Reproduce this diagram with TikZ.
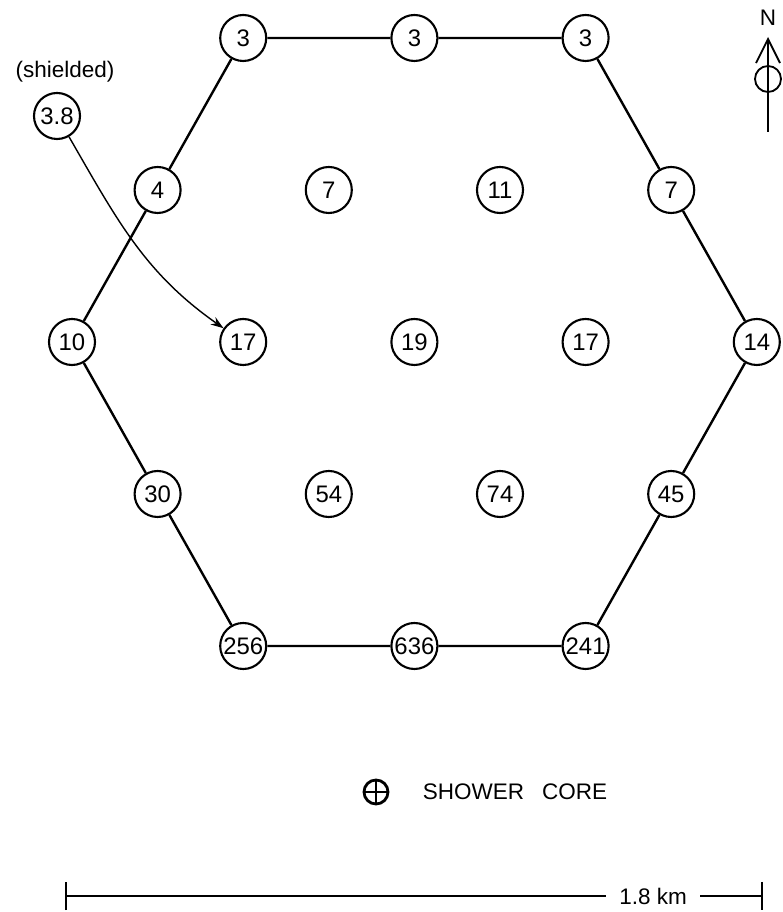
\documentclass[tikz,border=0pt]{standalone}
\usepackage{fontspec}
\setmainfont{Liberation Sans}
\usetikzlibrary{arrows.meta}

\begin{document}
\begin{tikzpicture}[x=0.025cm, y=0.025cm,
    detector/.style={circle, draw, line width=1.5pt, minimum size=1.15cm, inner sep=0pt, font=\fontsize{17}{17}\selectfont},
    hexline/.style={line width=1.7pt},
    lettering/.style={inner sep=0pt, font=\fontsize{16}{16}\selectfont},
    shieldarrow/.style={-{Stealth[length=3.2mm, width=2.2mm]}, line width=1pt},
    northarrow/.style={-{Straight Barb[length=6mm, width=6mm]}, line width=1.3pt},
    scalebar/.style={line width=1.4pt}
]
\useasboundingbox (0,0) rectangle (782,912);

% Detector array - top row
\node[detector] (t1) at (243.2,874) {3};
\node[detector] (t2) at (414.4,874) {3};
\node[detector] (t3) at (585.6,874) {3};
% second row
\node[detector] (a1) at (157.6,722) {4};
\node[detector] (a2) at (328.8,722) {7};
\node[detector] (a3) at (500,722) {11};
\node[detector] (a4) at (671.2,722) {7};
% middle row
\node[detector] (b1) at (72,570) {10};
\node[detector] (b2) at (243.2,570) {17};
\node[detector] (b3) at (414.4,570) {19};
\node[detector] (b4) at (585.6,570) {17};
\node[detector] (b5) at (756.8,570) {14};
% fourth row
\node[detector] (c1) at (157.6,418) {30};
\node[detector] (c2) at (328.8,418) {54};
\node[detector] (c3) at (500,418) {74};
\node[detector] (c4) at (671.2,418) {45};
% bottom row
\node[detector] (d1) at (243.2,266) {256};
\node[detector] (d2) at (414.4,266) {636};
\node[detector] (d3) at (585.6,266) {241};

% Hexagon outline
\draw[hexline] (t1) -- (t2) -- (t3) -- (a4) -- (b5) -- (c4) -- (d3) -- (d2) -- (d1) -- (c1) -- (b1) -- (a1) -- (t1);

% Shielded detector
\node[lettering] (shlabel) at (65,840) {(shielded)};
\node[detector] (sh) at (57,796) {3.8};
\draw[shieldarrow] (sh) to[out=-60, in=145] (b2);

% North arrow
\coordinate (nS) at (768,780);
\coordinate (nN) at (768,875);
\node[circle, draw, line width=1.3pt, minimum size=0.65cm, inner sep=0pt] (nc) at (768,833) {};
\draw[northarrow] (nS) -- (nN);
\node[lettering] (north) at (768,894) {N};

% Shower core legend
\node[circle, draw, line width=2pt, minimum size=0.6cm, inner sep=0pt,
      path picture={\draw[line width=2pt] (path picture bounding box.north) -- (path picture bounding box.south)
                    (path picture bounding box.west) -- (path picture bounding box.east);}] (core) at (376,120) {};
\node[lettering] (coretext) at (515,120) {SHOWER\hspace{0.45cm}CORE};

% Scale bar
\coordinate (sbL) at (65,16);
\coordinate (sbR) at (763,16);
\node[lettering, inner xsep=0.33cm] (km) at (653,16) {1.8 km};
\draw[scalebar, {Bar[width=0.7cm]}-] (sbL) -- (km);
\draw[scalebar, -{Bar[width=0.7cm]}] (km) -- (sbR);

\end{tikzpicture}
\end{document}
